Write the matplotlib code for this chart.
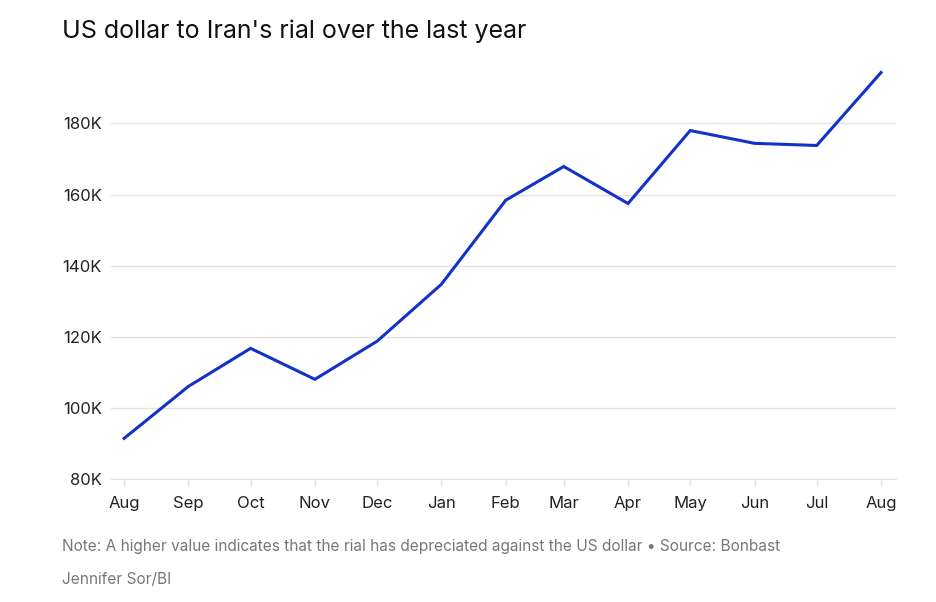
import matplotlib.pyplot as plt
import pandas as pd

plt.rcParams['font.family'] = ['Inter', 'DejaVu Sans']

# monthly readings, USD -> IRR (thousands)
months = pd.date_range('2024-08-01', periods=13, freq='MS')
rial_k = [91.5, 106.1, 116.8, 108.1, 118.8, 134.8, 158.4, 167.9, 157.5, 178.0, 174.4, 173.8, 194.3]
month_labels = ['Aug', 'Sep', 'Oct', 'Nov', 'Dec', 'Jan', 'Feb', 'Mar', 'Apr', 'May', 'Jun', 'Jul', 'Aug']
y_ticks = [80, 100, 120, 140, 160, 180]

fig = plt.figure(figsize=(9.37, 6.02), dpi=100)
ax = fig.add_axes([0.1185, 0.2038, 0.8377, 0.6994])

ax.plot(months, rial_k, color='#1232c8', linewidth=2.2, solid_joinstyle='miter')

ax.set_ylim(80, 198.3)
ax.set_xlim(months[0] - pd.Timedelta(days=6.3), months[-1] + pd.Timedelta(days=7.2))

ax.set_yticks(y_ticks)
ax.set_yticklabels([f'{v}K' for v in y_ticks])
ax.set_xticks(months)
ax.set_xticklabels(month_labels)

ax.grid(axis='y', color='#e3e3e3', linewidth=1)
ax.set_axisbelow(True)
for s in ['top', 'right', 'left']:
    ax.spines[s].set_visible(False)
ax.spines['bottom'].set_color('#e3e3e3')
ax.tick_params(axis='y', length=0, pad=6.5, labelsize=12, labelcolor='#222222')
ax.tick_params(axis='x', length=5, width=1, color='#e3e3e3', pad=7, labelsize=12, labelcolor='#222222')

fig.text(62/937, 1 - 31/602, "US dollar to Iran's rial over the last year",
         fontsize=18, color='#111111', va='center', ha='left')
fig.text(62/937, 1 - 546/602,
         "Note: A higher value indicates that the rial has depreciated against the US dollar \u2022 Source: Bonbast",
         fontsize=11.1, color='#777777', va='center', ha='left')
fig.text(62/937, 1 - 579/602, "Jennifer Sor/BI", fontsize=11.1, color='#777777', va='center', ha='left')

fig.savefig('out.png', dpi=100)
